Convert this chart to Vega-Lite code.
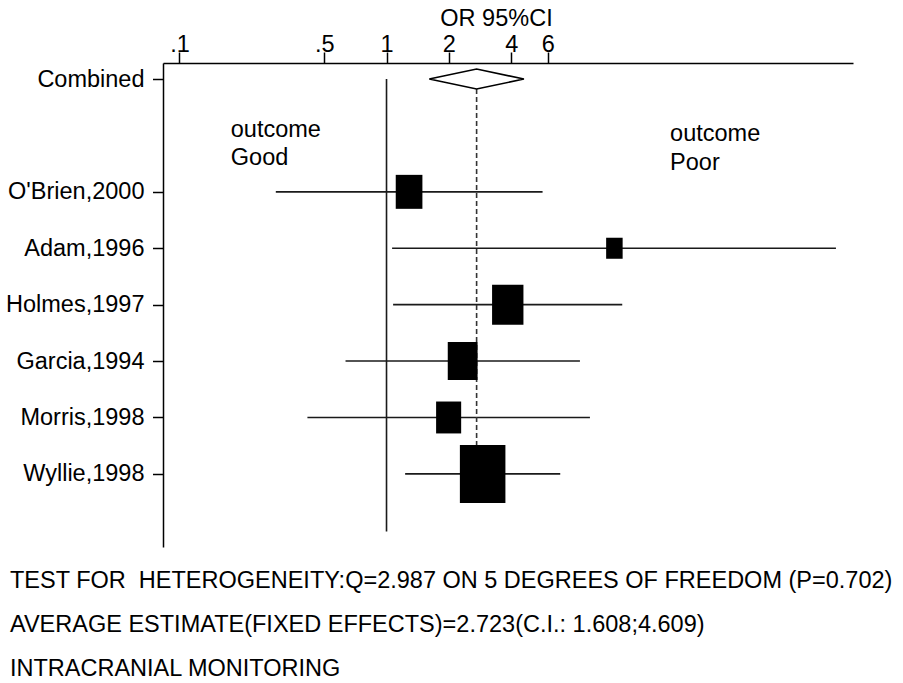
{
  "$schema": "https://vega.github.io/schema/vega-lite/v6.json",
  "width": 690,
  "height": 484,
  "autosize": {"type": "none"},
  "padding": {"left": 163, "top": 63, "right": 50, "bottom": 136},
  "background": "white",
  "config": {
    "font": "Liberation Sans",
    "view": {"stroke": null},
    "axis": {"grid": false}
  },
  "title": {
    "text": [
      "TEST FOR \u00a0HETEROGENEITY:Q=2.987 ON 5 DEGREES OF FREEDOM (P=0.702)",
      "AVERAGE ESTIMATE(FIXED EFFECTS)=2.723(C.I.: 1.608;4.609)",
      "INTRACRANIAL MONITORING"
    ],
    "orient": "bottom",
    "anchor": "start",
    "frame": "group",
    "offset": 22,
    "dx": -153,
    "font": "Liberation Sans",
    "fontSize": 23.5,
    "fontWeight": "normal",
    "lineHeight": 44,
    "baseline": "top",
    "color": "black"
  },
  "datasets": {
    "studies": [
      {"study": "O'Brien,2000", "row": 2, "or": 1.285, "lo": 0.292, "hi": 5.67, "weight": 12.8},
      {"study": "Adam,1996", "row": 3, "or": 12.6, "lo": 1.064, "hi": 148, "weight": 4.9},
      {"study": "Holmes,1997", "row": 4, "or": 3.85, "lo": 1.076, "hi": 13.75, "weight": 17.7},
      {"study": "Garcia,1994", "row": 5, "or": 2.332, "lo": 0.634, "hi": 8.59, "weight": 16.0},
      {"study": "Morris,1998", "row": 6, "or": 1.995, "lo": 0.415, "hi": 9.6, "weight": 11.3},
      {"study": "Wyllie,1998", "row": 7, "or": 2.912, "lo": 1.23, "hi": 6.9, "weight": 37.3}
    ],
    "nullline": [{"or": 1, "row": 0, "row2": 8.02}],
    "summaryline": [{"or": 2.723, "row": 0.1775, "row2": 7}],
    "diamond": [
      {"or": 1.608, "row": 0, "ord": 1},
      {"or": 2.723, "row": -0.1775, "ord": 2},
      {"or": 4.609, "row": 0, "ord": 3},
      {"or": 2.723, "row": 0.1775, "ord": 4},
      {"or": 1.608, "row": 0, "ord": 5}
    ],
    "notes": [
      {"label": "outcome", "or": 0.177, "row": 0.9},
      {"label": "Good", "or": 0.177, "row": 1.4},
      {"label": "outcome", "or": 23.4, "row": 0.97},
      {"label": "Poor", "or": 23.4, "row": 1.48}
    ]
  },
  "layer": [
    {
      "data": {"name": "studies"},
      "mark": {"type": "rule", "color": "#1a1a1a", "strokeWidth": 1.6},
      "encoding": {
        "x": {
          "field": "lo", "type": "quantitative",
          "scale": {"type": "log", "domain": [0.0833, 178.9], "nice": false},
          "axis": {
            "orient": "top",
            "values": [0.1, 0.5, 1, 2, 4, 6],
            "labelExpr": "datum.value == 0.1 ? '.1' : datum.value == 0.5 ? '.5' : datum.label",
            "tickSize": 11,
            "tickWidth": 1.5,
            "tickColor": "black",
            "domainColor": "black",
            "domainWidth": 1.5,
            "labelPadding": 1,
            "labelBaseline": "alphabetic",
            "labelFont": "Liberation Sans",
            "labelFontSize": 23.5,
            "labelColor": "black",
            "labelFlush": false,
            "labelOverlap": false,
            "title": "OR 95%CI",
            "titleFont": "Liberation Sans",
            "titleFontSize": 23.5,
            "titleFontWeight": "normal",
            "titleColor": "black",
            "titleAlign": "center",
            "titleBaseline": "alphabetic",
            "titleX": 333,
            "titleY": -38
          }
        },
        "x2": {"field": "hi"},
        "y": {
          "field": "row", "type": "quantitative",
          "scale": {"domain": [-0.284, 8.296], "reverse": true, "nice": false, "zero": false},
          "axis": {
            "orient": "left",
            "values": [0, 2, 3, 4, 5, 6, 7],
            "labelExpr": "[\"Combined\", \"\", \"O'Brien,2000\", \"Adam,1996\", \"Holmes,1997\", \"Garcia,1994\", \"Morris,1998\", \"Wyllie,1998\"][datum.value]",
            "tickSize": 10.5,
            "tickWidth": 1.5,
            "tickColor": "black",
            "domainColor": "black",
            "domainWidth": 1.5,
            "labelPadding": 8.5,
            "labelFont": "Liberation Sans",
            "labelFontSize": 23.5,
            "labelColor": "black",
            "labelBaseline": "middle",
            "labelFlush": false,
            "labelOverlap": false,
            "title": null
          }
        }
      }
    },
    {
      "data": {"name": "nullline"},
      "mark": {"type": "rule", "color": "#1a1a1a", "strokeWidth": 1.6},
      "encoding": {
        "x": {"field": "or", "type": "quantitative", "scale": {"type": "log", "domain": [0.0833, 178.9], "nice": false}},
        "y": {"field": "row", "type": "quantitative", "scale": {"domain": [-0.284, 8.296], "reverse": true, "nice": false, "zero": false}},
        "y2": {"field": "row2"}
      }
    },
    {
      "data": {"name": "summaryline"},
      "mark": {"type": "rule", "color": "#333333", "strokeWidth": 1.6, "strokeDash": [5, 3]},
      "encoding": {
        "x": {"field": "or", "type": "quantitative", "scale": {"type": "log", "domain": [0.0833, 178.9], "nice": false}},
        "y": {"field": "row", "type": "quantitative", "scale": {"domain": [-0.284, 8.296], "reverse": true, "nice": false, "zero": false}},
        "y2": {"field": "row2"}
      }
    },
    {
      "data": {"name": "studies"},
      "mark": {"type": "point", "filled": true, "color": "black", "opacity": 1, "strokeWidth": 0, "shape": "M -0.785 -1 L 0.785 -1 L 0.785 1 L -0.785 1 Z"},
      "encoding": {
        "x": {"field": "or", "type": "quantitative", "scale": {"type": "log", "domain": [0.0833, 178.9], "nice": false}},
        "y": {"field": "row", "type": "quantitative", "scale": {"domain": [-0.284, 8.296], "reverse": true, "nice": false, "zero": false}},
        "size": {"field": "weight", "type": "quantitative", "scale": {"type": "linear", "domain": [0, 37.3], "range": [0, 3364], "zero": true}, "legend": null}
      }
    },
    {
      "data": {"name": "diamond"},
      "mark": {"type": "line", "color": "black", "strokeWidth": 1.6, "strokeJoin": "miter"},
      "encoding": {
        "x": {"field": "or", "type": "quantitative", "scale": {"type": "log", "domain": [0.0833, 178.9], "nice": false}},
        "y": {"field": "row", "type": "quantitative", "scale": {"domain": [-0.284, 8.296], "reverse": true, "nice": false, "zero": false}},
        "order": {"field": "ord", "type": "quantitative"}
      }
    },
    {
      "data": {"name": "notes"},
      "mark": {"type": "text", "align": "left", "baseline": "middle", "font": "Liberation Sans", "fontSize": 23.5, "color": "black"},
      "encoding": {
        "x": {"field": "or", "type": "quantitative", "scale": {"type": "log", "domain": [0.0833, 178.9], "nice": false}},
        "y": {"field": "row", "type": "quantitative", "scale": {"domain": [-0.284, 8.296], "reverse": true, "nice": false, "zero": false}},
        "text": {"field": "label"}
      }
    }
  ]
}
